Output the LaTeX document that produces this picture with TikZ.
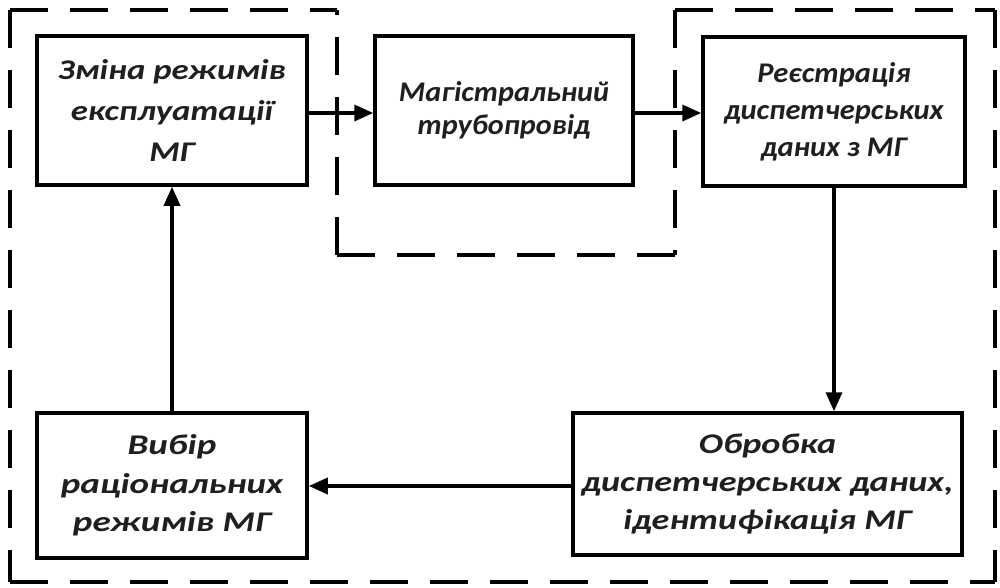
\documentclass[tikz,border=0pt]{standalone}
\usepackage{fontspec}
\setmainfont{Carlito}
\newfontfamily\fA[FakeStretch=1.22]{Carlito}
\newfontfamily\fB[FakeStretch=1.06]{Carlito}
\newfontfamily\fC[FakeStretch=1.07]{Carlito}
\newfontfamily\fD[FakeStretch=1.30]{Carlito}
\newfontfamily\fE[FakeStretch=1.27]{Carlito}
\usetikzlibrary{arrows.meta}
\begin{document}
\begin{tikzpicture}[x=1pt,y=-1pt,
  blk/.style={draw=black, line width=3.5pt, fill=white, inner sep=0pt, align=center, text=black!88},
  arr/.style={line width=3.5pt, -{Triangle[length=19pt,width=16pt]}},
  frame/.style={line width=4pt, dash pattern=on 38pt off 22pt}]
\useasboundingbox[fill=white] (0,0) rectangle (1000,588);
% dashed frame
\draw[frame] (10,10) -- (337,10);
\draw[frame, dash phase=33pt] (337,10) -- (337,255);
\draw[frame] (337,255) -- (675,255);
\draw[frame] (675,10) -- (675,255);
\draw[frame] (675,10) -- (995,10);
\draw[frame] (995,10) -- (995,582);
\draw[frame] (10,582) -- (995,582);
\draw[frame] (10,10) -- (10,582);
% blocks
\node[blk, minimum width=270pt, minimum height=149pt, font=\fA\fontsize{28.5}{41}\selectfont\bfseries\itshape] (a) at (172,110.5) {Зміна режимів\\експлуатації\\МГ};
\node[blk, minimum width=258pt, minimum height=149pt, font=\fB\fontsize{28.5}{33}\selectfont\bfseries\itshape] (b) at (504,110.5) {Магістральний\\трубопровід};
\node[blk, minimum width=262pt, minimum height=149pt, font=\fC\fontsize{28.5}{37}\selectfont\bfseries\itshape] (c) at (834,111.5) {Реєстрація\\диспетчерських\\даних з МГ};
\node[blk, minimum width=270pt, minimum height=145pt, font=\fD\fontsize{28.5}{38.5}\selectfont\bfseries\itshape] (d) at (172,485.5) {Вибір\\раціональних\\режимів МГ};
\node[blk, minimum width=389pt, minimum height=142pt, font=\fE\fontsize{28.5}{38}\selectfont\bfseries\itshape] (e) at (767.5,484) {Обробка\\диспетчерських даних,\\ідентифікація МГ};
% connectors
\draw[arr] (a.east |- 0,113) -- (b.west |- 0,113);
\draw[arr] (b.east |- 0,113) -- (c.west |- 0,113);
\draw[arr] (c.south) -- (e.north -| c.south);
\draw[arr] (e.west |- 0,486) -- (d.east |- 0,486);
\draw[arr] (d.north) -- (a.south);
\end{tikzpicture}
\end{document}
